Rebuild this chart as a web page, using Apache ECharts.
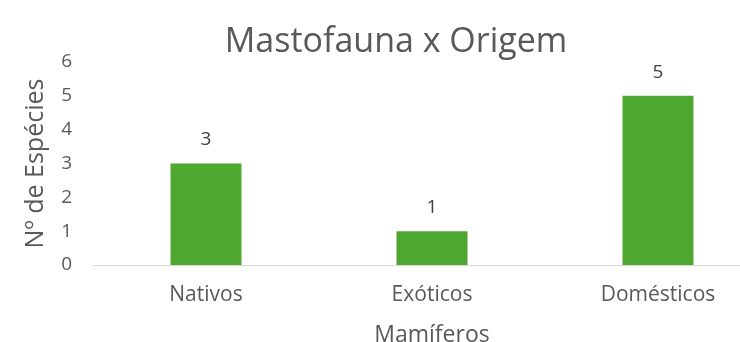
<!DOCTYPE html>
<html>
<head>
<meta charset="utf-8">
<style>
  html, body { margin: 0; padding: 0; background: #ffffff; }
  #chart { width: 740px; height: 342px; }
</style>
<script src="https://cdn.jsdelivr.net/npm/echarts@6/dist/echarts.min.js"></script>
</head>
<body>
<div id="chart"></div>
<script>
  // Species counts of mammals by origin
  const categories = ['Nativos', 'Exóticos', 'Domésticos'];
  const especies = [3, 1, 5];
  const yTicks = [0, 1, 2, 3, 4, 5, 6];

  const FONT = '"Open Sans", "Noto Sans", sans-serif';
  const chart = echarts.init(document.getElementById('chart'), null, { renderer: 'canvas' });

  chart.setOption({
    backgroundColor: '#ffffff',
    animation: false,
    title: {
      text: 'Mastofauna x Origem',
      left: 391,
      top: 20,
      textAlign: 'center',
      textStyle: { fontFamily: FONT, fontSize: 34, fontWeight: 'normal', color: '#595959' }
    },
    grid: { left: 93, top: 62, width: 678, height: 203, containLabel: false, outerBoundsMode: 'none' },
    xAxis: {
      type: 'category',
      data: categories,
      name: 'Mamíferos',
      nameLocation: 'middle',
      nameGap: 59,
      nameTextStyle: { fontFamily: FONT, fontSize: 23, color: '#595959' },
      axisLine: { show: true, lineStyle: { color: '#d9d9d9', width: 1 } },
      axisTick: { show: false },
      axisLabel: { fontFamily: FONT, fontSize: 21, color: '#595959', margin: 20 },
      splitLine: { show: false }
    },
    yAxis: {
      type: 'value',
      min: yTicks[0],
      max: yTicks[yTicks.length - 1],
      interval: 1,
      name: 'Nº de Espécies',
      nameLocation: 'middle',
      nameGap: 45,
      nameRotate: 90,
      nameTextStyle: { fontFamily: FONT, fontSize: 25, color: '#595959' },
      axisLine: { show: false },
      axisTick: { show: false },
      axisLabel: { fontFamily: FONT, fontSize: 19, color: '#595959', margin: 21 },
      splitLine: { show: false }
    },
    series: [{
      type: 'bar',
      data: especies,
      barWidth: 71,
      itemStyle: { color: '#4ea72e' },
      label: {
        show: true,
        position: 'top',
        distance: 14,
        fontFamily: FONT,
        fontSize: 19,
        color: '#404040'
      }
    }]
  });
</script>
</body>
</html>
